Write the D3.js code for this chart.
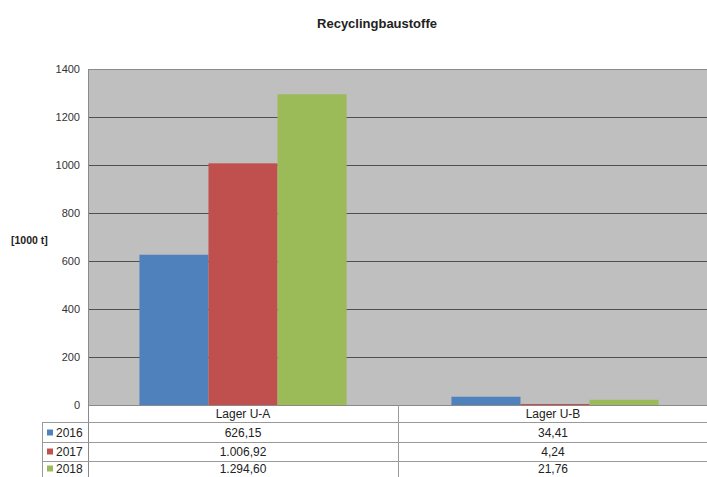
<!DOCTYPE html>
<html><head><meta charset="utf-8">
<script src="https://cdn.jsdelivr.net/npm/d3@7"></script>
<style>body{margin:0;background:#fff;}svg{display:block;font-family:"Liberation Sans",Arial,sans-serif;}</style>
</head><body>
<svg id="c" width="707" height="477"></svg>
<script>
const categories = ["Lager U-A", "Lager U-B"];
const years = ["2016", "2017", "2018"];
const values2016 = [626.15, 34.41];
const values2017 = [1006.92, 4.24];
const values2018 = [1294.60, 21.76];
const labels2016 = ["626,15", "34,41"];
const labels2017 = ["1.006,92", "4,24"];
const labels2018 = ["1.294,60", "21,76"];
const yTicks = [0, 200, 400, 600, 800, 1000, 1200, 1400];
const colors = ["#4f81bd", "#c0504d", "#9bbb59"];

const series = [values2016, values2017, values2018];
const seriesLabels = [labels2016, labels2017, labels2018];

const svg = d3.select("#c");
const L = 88, R = 708, T = 69, B = 405;

const y = d3.scaleLinear().domain([0, 1400]).range([B, T]);
const x0 = d3.scaleBand().domain(categories).range([L, R]).padding(0);
const x1 = d3.scaleBand().domain(years).range([0, x0.bandwidth()]).paddingInner(0).paddingOuter(0.745);

// plot background
svg.append("rect").attr("x", L).attr("y", T).attr("width", R - L).attr("height", B - T).attr("fill", "#bfbfc0");

// gridlines
svg.append("g").selectAll("line").data(yTicks.filter(d => d > 0 && d < 1400)).join("line")
  .attr("x1", L).attr("x2", R).attr("y1", d => Math.round(y(d)) + 0.5).attr("y2", d => Math.round(y(d)) + 0.5)
  .attr("stroke", "#505050").attr("stroke-width", 1);
svg.append("line").attr("x1", L).attr("x2", R).attr("y1", T + 0.5).attr("y2", T + 0.5).attr("stroke", "#8a8a8a");

// bars
categories.forEach((c, ci) => {
  years.forEach((yr, si) => {
    const v = series[si][ci];
    svg.append("rect")
      .attr("x", x0(c) + x1(yr) + (ci === 1 ? 2 : 0))
      .attr("y", y(v))
      .attr("width", x1.bandwidth())
      .attr("height", B - y(v))
      .attr("fill", colors[si]);
  });
});

// left border
svg.append("line").attr("x1", L + 0.5).attr("x2", L + 0.5).attr("y1", T).attr("y2", 477).attr("stroke", "#8a8a8a");

// y tick labels
svg.append("g").selectAll("text").data(yTicks).join("text")
  .attr("x", 80).attr("y", d => y(d)).attr("dy", "0.35em").attr("text-anchor", "end")
  .attr("font-size", 11).attr("fill", "#333").text(d => d);

// y axis title
svg.append("text").attr("x", 11).attr("y", 240).attr("dy", "0.35em")
  .attr("font-size", 10.5).attr("font-weight", "bold").attr("fill", "#222").text("[1000 t]");

// title
svg.append("text").attr("x", 377).attr("y", 23).attr("dy", "0.35em").attr("text-anchor", "middle")
  .attr("font-size", 13).attr("font-weight", "bold").attr("fill", "#222").text("Recyclingbaustoffe");

// data table
const rowY = [405, 422, 442, 461, 477];
const tbl = svg.append("g");
tbl.append("line").attr("x1", L).attr("x2", R).attr("y1", B + 0.5).attr("y2", B + 0.5).attr("stroke", "#8a8a8a");
[422, 442, 461].forEach(yy => {
  tbl.append("line").attr("x1", 42).attr("x2", R).attr("y1", yy + 0.5).attr("y2", yy + 0.5).attr("stroke", "#9a9a9a");
});
tbl.append("line").attr("x1", 42.5).attr("x2", 42.5).attr("y1", 422).attr("y2", 477).attr("stroke", "#9a9a9a");
tbl.append("line").attr("x1", x0(categories[1]) + 0.5).attr("x2", x0(categories[1]) + 0.5).attr("y1", B).attr("y2", 477).attr("stroke", "#9a9a9a");

tbl.selectAll("text.h").data(categories).join("text").attr("class", "h")
  .attr("x", d => x0(d) + x0.bandwidth() / 2).attr("y", 413.5).attr("dy", "0.35em")
  .attr("text-anchor", "middle").attr("font-size", 12).attr("fill", "#222").text(d => d);

const rowCenters = [432.5, 451.5, 468.5];
years.forEach((yr, si) => {
  const cy = rowCenters[si];
  tbl.append("rect").attr("x", 47).attr("y", cy - 3).attr("width", 6).attr("height", 6).attr("fill", colors[si]);
  tbl.append("text").attr("x", 56).attr("y", cy).attr("dy", "0.35em").attr("font-size", 12).attr("fill", "#222").text(yr);
  categories.forEach((c, ci) => {
    tbl.append("text").attr("x", x0(c) + x0.bandwidth() / 2).attr("y", cy).attr("dy", "0.35em")
      .attr("text-anchor", "middle").attr("font-size", 12).attr("fill", "#222").text(seriesLabels[si][ci]);
  });
});
</script>
</body></html>
